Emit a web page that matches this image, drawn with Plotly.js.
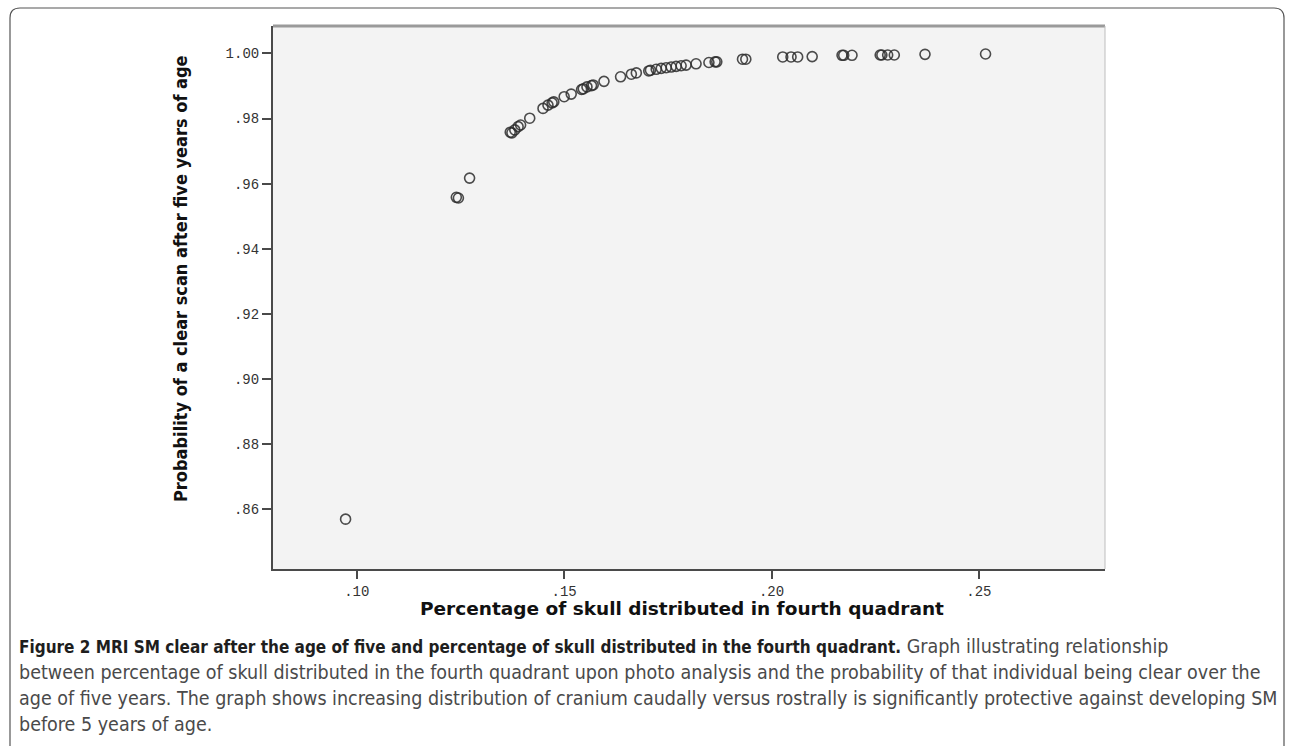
<!DOCTYPE html>
<html>
<head>
<meta charset="utf-8">
<script src="https://cdn.plot.ly/plotly-3.0.1.min.js"></script>
<style>
html,body{margin:0;padding:0;background:#fff;}
#chart{width:1290px;height:746px;}
</style>
</head>
<body>
<div id="chart"></div>
<script>
// Data
const pctFourthQuadrant = [0.0973,0.1240,0.1245,0.1272,0.1370,0.1374,0.1381,0.1389,0.1395,0.1417,
  0.1449,0.1461,0.1471,0.1475,0.1500,0.1517,0.1542,0.1546,0.1555,0.1566,
  0.1570,0.1596,0.1636,0.1662,0.1674,0.1704,0.1708,0.1722,0.1734,0.1746,
  0.1758,0.1770,0.1782,0.1794,0.1818,0.1849,0.1864,0.1868,0.1930,0.1938,
  0.2027,0.2047,0.2063,0.2098,0.2170,0.2174,0.2194,0.2262,0.2266,0.2280,
  0.2296,0.2370,0.2516];
const probClearScan = [0.8570,0.9558,0.9556,0.9617,0.9758,0.9756,0.9765,0.9775,0.9780,0.9801,
  0.9831,0.9841,0.9848,0.9851,0.9867,0.9875,0.9889,0.9891,0.9897,0.9901,
  0.9903,0.9914,0.9928,0.9936,0.9940,0.9946,0.9948,0.9951,0.9954,0.9956,
  0.9958,0.9960,0.9962,0.9964,0.9968,0.9972,0.9974,0.9974,0.9982,0.9982,
  0.9989,0.9989,0.9989,0.9990,0.9994,0.9994,0.9994,0.9995,0.9995,0.9995,
  0.9995,0.9997,0.9998];
const xTickVals = [0.10,0.15,0.20,0.25];
const xTickText = ['.10','.15','.20','.25'];
const yTickVals = [0.86,0.88,0.90,0.92,0.94,0.96,0.98,1.00];
const yTickText = ['.86','.88','.90','.92','.94','.96','.98','1.00'];
const xTitle = 'Percentage of skull distributed in fourth quadrant';
const yTitle = 'Probability of a clear scan after five years of age';
const captionLines = [
  '<span style="font-size:17px;color:#1e1e1e"><b>Figure 2 MRI SM clear after the age of five and percentage of skull distributed in the fourth quadrant.</b></span> Graph illustrating relationship',
  'between percentage of skull distributed in the fourth quadrant upon photo analysis and the probability of that individual being clear over the',
  'age of five years. The graph shows increasing distribution of cranium caudally versus rostrally is significantly protective against developing SM',
  'before 5 years of age.'
];

// layout geometry (pixels)
const W = 1290, H = 746;
const L = 273, R = 1105, T = 26, B = 569;
const pw = R - L, ph = B - T;
const px = v => (v - L) / pw;
const py = v => (B - v) / ph;

const annotations = captionLines.map((t, i) => ({
  text: t, xref: 'paper', yref: 'paper',
  x: px(17), y: py(646 + i * 26.3),
  xanchor: 'left', yanchor: 'middle', showarrow: false, align: 'left',
  font: {family: '"Liberation Sans Narrow", "DejaVu Sans Condensed", sans-serif', size: 19.5, color: '#4a4a4a'}
}));
annotations.push({
  text: '<b>' + yTitle + '</b>', xref: 'paper', yref: 'paper',
  x: px(180), y: py(279), textangle: -90, showarrow: false,
  xanchor: 'center', yanchor: 'middle',
  font: {family: '"Liberation Sans Narrow", "DejaVu Sans Condensed", sans-serif', size: 18, color: '#111'}
});
annotations.push({
  text: '<b>' + xTitle + '</b>', xref: 'paper', yref: 'paper',
  x: px(682), y: py(608), showarrow: false,
  xanchor: 'center', yanchor: 'middle',
  font: {family: '"DejaVu Sans", "Liberation Sans", sans-serif', size: 18.5, color: '#111'}
});

const frame = 'M ' + px(10) + ' ' + py(780) + ' L ' + px(10) + ' ' + py(18) +
  ' Q ' + px(10) + ' ' + py(8) + ' ' + px(20) + ' ' + py(8) +
  ' L ' + px(1274) + ' ' + py(8) +
  ' Q ' + px(1284) + ' ' + py(8) + ' ' + px(1284) + ' ' + py(18) +
  ' L ' + px(1284) + ' ' + py(780);

const trace = {
  x: pctFourthQuadrant, y: probClearScan, type: 'scatter', mode: 'markers',
  marker: {symbol: 'circle-open', size: 10, color: 'rgba(45,45,45,0.85)', line: {width: 1.6}},
  hoverinfo: 'x+y'
};

const layout = {
  width: W, height: H,
  margin: {l: L, r: W - R, t: T, b: H - B, pad: 0},
  paper_bgcolor: '#ffffff', plot_bgcolor: '#f3f3f3',
  showlegend: false,
  xaxis: {
    range: [0.0798, 0.2804], tickvals: xTickVals, ticktext: xTickText,
    showgrid: false, zeroline: false, showline: true, linecolor: '#4a4a4a', linewidth: 2,
    ticks: 'outside', ticklen: 8, tickwidth: 2, tickcolor: '#4a4a4a',
    tickfont: {family: '"Liberation Mono", "DejaVu Sans Mono", monospace', size: 14, color: '#333'}
  },
  yaxis: {
    range: [0.8417, 1.0084], tickvals: yTickVals, ticktext: yTickText,
    showgrid: false, zeroline: false, showline: true, linecolor: '#4a4a4a', linewidth: 2,
    ticks: 'outside', ticklen: 9, tickwidth: 2, tickcolor: '#4a4a4a',
    tickfont: {family: '"Liberation Mono", "DejaVu Sans Mono", monospace', size: 14, color: '#333'}
  },
  shapes: [
    {type: 'line', xref: 'paper', yref: 'paper', x0: 0, x1: 1, y0: 1, y1: 1, line: {color: '#9a9a9a', width: 3}},
    {type: 'line', xref: 'paper', yref: 'paper', x0: 1, x1: 1, y0: 0, y1: 1, line: {color: '#bdbdbd', width: 1}},
    {type: 'path', xref: 'paper', yref: 'paper', path: frame, line: {color: '#555', width: 1.2}}
  ],
  annotations: annotations
};

Plotly.newPlot('chart', [trace], layout, {displayModeBar: false, staticPlot: true});
</script>
</body>
</html>
